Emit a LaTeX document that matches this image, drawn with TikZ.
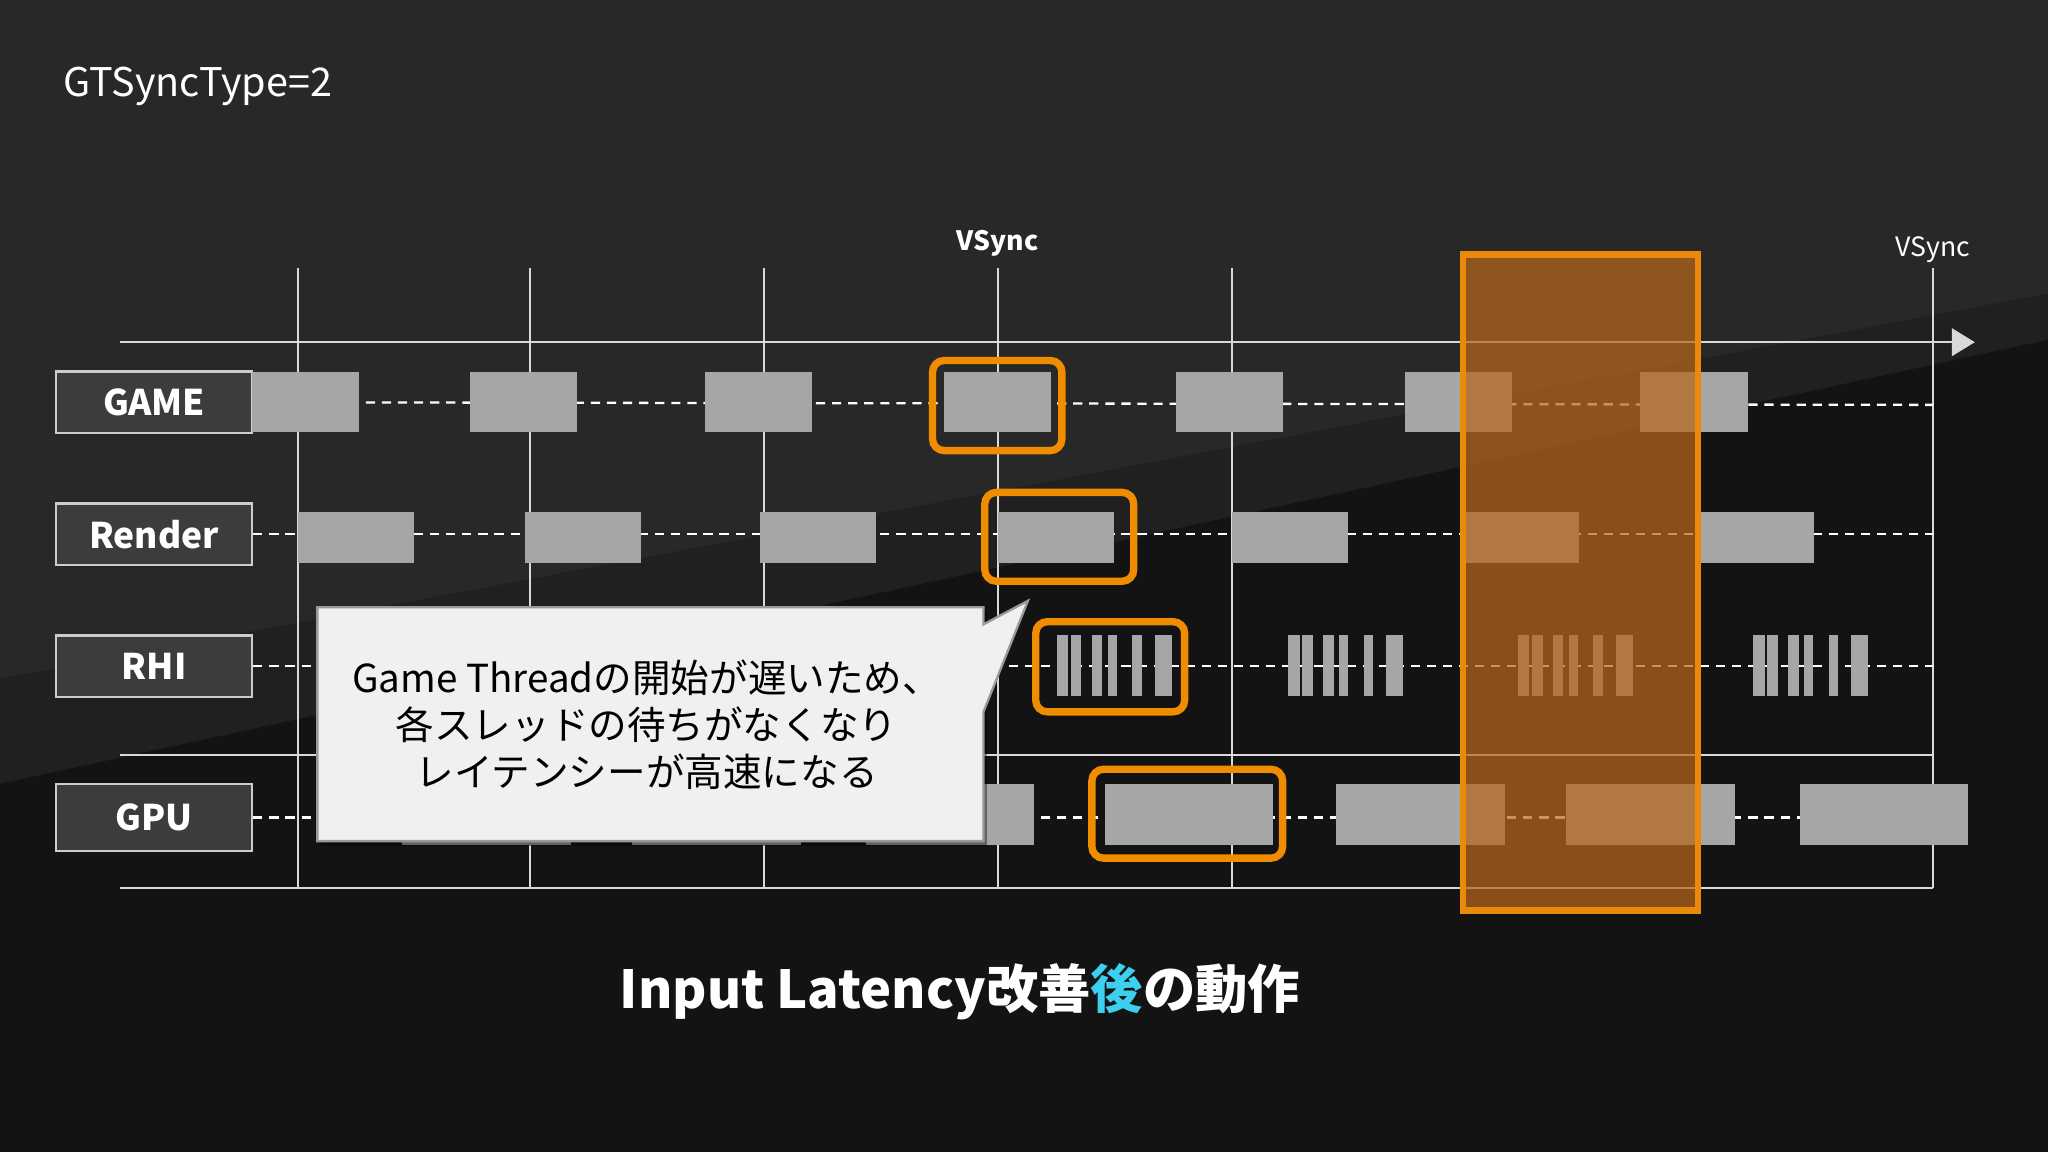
\documentclass[tikz,border=0pt]{standalone}
\usepackage{fontspec}
\setmainfont{Noto Sans CJK JP}
\usetikzlibrary{arrows.meta}
\definecolor{bgA}{HTML}{282828}
\definecolor{bgB}{HTML}{131313}
\definecolor{blk}{HTML}{A6A6A6}
\definecolor{orng}{HTML}{F08C00}
\definecolor{colfill}{HTML}{B8671C}
\definecolor{lblfill}{HTML}{3C3C3C}
\definecolor{cyanT}{HTML}{3CCFEF}
\tikzset{
  lbl/.style={draw=white!80!black, fill=lblfill, line width=0.5pt, minimum width=1.5cm, minimum height=0.47cm, text=white, font=\fontsize{7.7}{9}\selectfont\bfseries},
  blkbox/.style={fill=blk},
  hilite/.style={draw=orng, line width=1.6pt, rounded corners=2.5pt},
  gridline/.style={white!85!black, line width=0.5pt},
  dashline/.style={white, dash pattern=on 2pt off 1.5pt, line width=0.5pt}
}
\begin{document}
\begin{tikzpicture}[x=0.01cm,y=-0.01cm]
\useasboundingbox (0,0) rectangle (1568,882);
\fill[bgA] (0,0) rectangle (1568,882);
\fill[bgB] (0,520) -- (1568,225) -- (1568,882) -- (0,882) -- cycle;
\fill[black!20!bgA] (0,520) -- (1568,225) -- (1568,260) -- (0,600) -- cycle;
\fill[black!5!bgB] (0,882) -- (1568,790) -- (1568,882) -- cycle;

\node[anchor=west, text=white, font=\fontsize{8.6}{10}\selectfont] (title) at (36,66) {GTSyncType=2};

% grid
\foreach \x in {228,406,585,764,943,1480} \draw[gridline] (\x,205) -- (\x,680);
\draw[gridline, -{Triangle[length=5pt,width=6pt]}] (92,262) -- (1512,262);
\draw[gridline] (92,578) -- (1480,578);
\draw[gridline] (92,680) -- (1480,680);
\node[text=white, font=\fontsize{5.8}{7}\selectfont\bfseries] (vs1) at (764,186) {VSync};
\node[text=white, font=\fontsize{5.8}{7}\selectfont] (vs2) at (1480,191) {VSync};

% labels
\node[lbl] (game) at (118,308) {GAME};
\node[lbl] (render) at (118,409) {Render};
\node[lbl] (rhi) at (118,510) {RHI};
\node[lbl, minimum height=0.51cm] (gpu) at (118,626) {GPU};
\coordinate (ge) at (1480,310);
\coordinate (re) at (1480,409);
\coordinate (he) at (1480,510);
\coordinate (pe) at (1480,626);
\draw[dashline] (game.east) -- (ge);
\draw[dashline] (render.east) -- (re);
\draw[dashline] (rhi.east) -- (he);
\draw[dashline] (gpu.east) -- (pe);

% GAME blocks
\foreach \x in {193,360,540,723,900,1076,1256} \fill[blkbox] (\x,285) rectangle ++(82,46);
% Render
\foreach \x in {228,402,582,764,943,1120,1300} \fill[blkbox] (\x,392) rectangle ++(89,39);
% RHI
\foreach \x in {809,986,1162,1342}
  \foreach \a/\b in {0/9,11/19,27/35,39/46,58/65,75/88}
    \fill[blkbox] (\x+\a,486) rectangle (\x+\b,533);
% GPU
\foreach \x in {308,484,663,846,1023,1199,1378} \fill[blkbox] (\x,600) rectangle ++(129,47);

% highlights
\draw[hilite] (714,276) rectangle (813,345);
\draw[hilite] (754,377) rectangle (868,445);
\draw[hilite] (793,476) rectangle (907,545);
\draw[hilite] (836,589) rectangle (982,657);

% orange column
\fill[colfill, opacity=0.72] (1120,195) rectangle (1300,697);
\draw[orng!85!brown, line width=1.4pt] (1120,195) rectangle (1300,697);

% callout
\fill[black, opacity=0.4] (246,468) -- (756,468) -- (756,648) -- (246,648) -- cycle;
\draw[white!60!black, fill=white!94!black, line width=0.5pt] (243,465) -- (753,465) -- (753,478) -- (787,460) -- (753,545) -- (753,644) -- (243,644) -- cycle;
\node[align=center, text=black, font=\fontsize{8.4}{10.2}\selectfont] (note) at (495,555) {Game Threadの開始が遅いため、\\各スレッドの待ちがなくなり\\レイテンシーが高速になる};

\node[text=white, font=\fontsize{11.4}{13}\selectfont\bfseries] (cap) at (735,759) {Input Latency改善\textcolor{cyanT}{後}の動作};
\end{tikzpicture}
\end{document}
